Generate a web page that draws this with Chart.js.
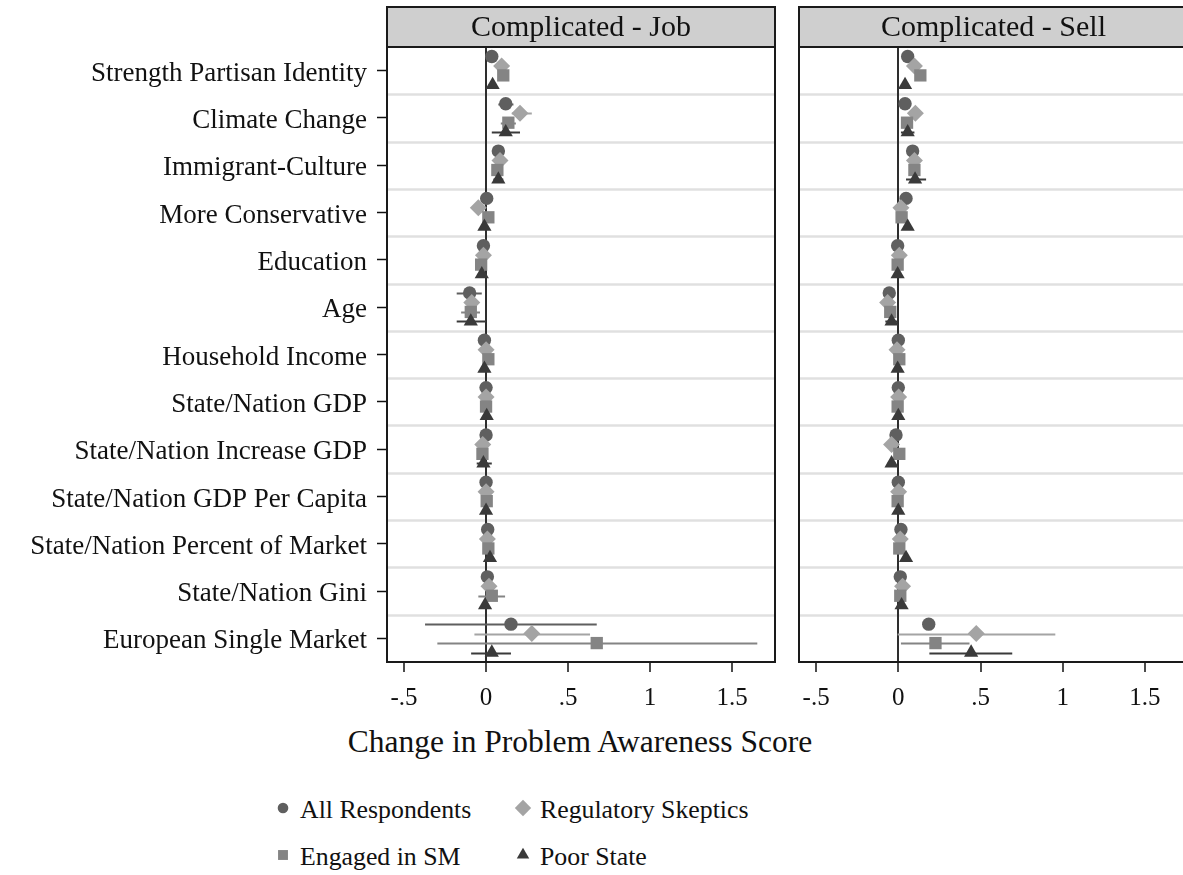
<!DOCTYPE html>
<html>
<head>
<meta charset="utf-8">
<script src="https://cdn.jsdelivr.net/npm/chart.js@4.4.1/dist/chart.umd.min.js"></script>
<style>
  html, body { margin: 0; padding: 0; background: #fff; overflow: hidden; width: 1183px; height: 875px; }
  #wrap { position: relative; width: 1183px; height: 875px; overflow: hidden; }
  canvas { position: absolute; top: 0; }
  #cJob { left: 0; }
  #cSell { left: 790px; }
  .xtitle { position: absolute; left: 280px; width: 600px; top: 724px; text-align: center;
            font-family: "Liberation Serif", serif; font-size: 31.5px; color: #111; white-space: nowrap; }
  .leg { position: absolute; height: 40px; display: flex; align-items: center;
         font-family: "Liberation Serif", serif; font-size: 25.8px; color: #111; white-space: nowrap; }
  .leg canvas { position: static; margin-right: 5px; }
</style>
</head>
<body>
<div id="wrap">
  <canvas id="cJob" width="790" height="720"></canvas>
  <canvas id="cSell" width="420" height="720"></canvas>
  <div class="xtitle">Change in Problem Awareness Score</div>
  <div id="legend"></div>
</div>
<script>
// Covariates, top to bottom
const categories = [
  'Strength Partisan Identity', 'Climate Change', 'Immigrant-Culture', 'More Conservative',
  'Education', 'Age', 'Household Income', 'State/Nation GDP', 'State/Nation Increase GDP',
  'State/Nation GDP Per Capita', 'State/Nation Percent of Market', 'State/Nation Gini',
  'European Single Market'
];
const seriesNames = ['All Respondents', 'Regulatory Skeptics', 'Engaged in SM', 'Poor State'];
const panelTitles = ['Complicated - Job', 'Complicated - Sell'];
const xTickValues = [-0.5, 0, 0.5, 1, 1.5];
const xTickLabels = ['-.5', '0', '.5', '1', '1.5'];

// Complicated - Job: point estimates and confidence bounds
const jobAll       = [0.035, 0.12, 0.075, 0.004, -0.016, -0.10, -0.01, 0.0, 0.0, 0.0, 0.01, 0.008, 0.152];
const jobAllLo     = [0.012, 0.075, 0.052, -0.02, -0.04, -0.179, -0.032, -0.022, -0.022, -0.02, -0.012, -0.014, -0.372];
const jobAllHi     = [0.058, 0.167, 0.098, 0.028, 0.008, -0.026, 0.012, 0.022, 0.022, 0.02, 0.032, 0.03, 0.675];
const jobSkeptics   = [0.095, 0.207, 0.085, -0.047, -0.016, -0.087, 0.0, 0.0, -0.02, 0.0, 0.008, 0.018, 0.279];
const jobSkepticsLo = [0.07, 0.157, 0.06, -0.075, -0.042, -0.118, -0.024, -0.022, -0.046, -0.022, -0.014, -0.008, -0.071];
const jobSkepticsHi = [0.12, 0.279, 0.11, -0.019, 0.01, -0.056, 0.024, 0.022, 0.006, 0.022, 0.03, 0.044, 0.634];
const jobEngaged   = [0.105, 0.136, 0.069, 0.014, -0.03, -0.093, 0.014, 0.0, -0.022, 0.004, 0.014, 0.035, 0.675];
const jobEngagedLo = [0.08, 0.09, 0.045, -0.012, -0.056, -0.152, -0.01, -0.022, -0.048, -0.02, -0.01, -0.047, -0.297];
const jobEngagedHi = [0.13, 0.182, 0.093, 0.04, -0.004, -0.037, 0.038, 0.022, 0.004, 0.028, 0.038, 0.116, 1.654];
const jobPoor      = [0.04, 0.12, 0.075, -0.01, -0.026, -0.093, -0.01, 0.004, -0.016, 0.0, 0.024, -0.006, 0.035];
const jobPoorLo    = [0.015, 0.035, 0.045, -0.036, -0.05, -0.179, -0.034, -0.02, -0.057, -0.022, 0.002, -0.03, -0.091];
const jobPoorHi    = [0.065, 0.207, 0.105, 0.016, -0.002, 0.0, 0.014, 0.028, 0.035, 0.022, 0.046, 0.018, 0.152];

// Complicated - Sell: point estimates and confidence bounds
const sellAll       = [0.057, 0.041, 0.087, 0.047, -0.004, -0.055, 0.0, 0.0, -0.014, 0.0, 0.016, 0.012, 0.185];
const sellAllLo     = [0.035, 0.02, 0.065, 0.025, -0.025, -0.08, -0.02, -0.02, -0.035, -0.02, -0.005, -0.01, null];
const sellAllHi     = [0.08, 0.062, 0.11, 0.07, 0.017, -0.03, 0.02, 0.02, 0.007, 0.02, 0.037, 0.034, null];
const sellSkeptics   = [0.098, 0.104, 0.098, 0.016, 0.006, -0.065, -0.008, 0.002, -0.041, 0.002, 0.012, 0.026, 0.474];
const sellSkepticsLo = [0.075, 0.08, 0.075, -0.005, -0.015, -0.09, -0.03, -0.02, -0.065, -0.02, -0.01, 0.005, -0.004];
const sellSkepticsHi = [0.12, 0.128, 0.12, 0.037, 0.027, -0.04, 0.014, 0.024, -0.017, 0.024, 0.034, 0.047, 0.955];
const sellEngaged   = [0.134, 0.053, 0.098, 0.02, -0.004, -0.049, 0.006, -0.004, 0.006, -0.004, 0.006, 0.012, 0.226];
const sellEngagedLo = [0.11, 0.03, 0.075, -0.002, -0.025, -0.07, -0.015, -0.025, -0.015, -0.025, -0.015, -0.01, 0.016];
const sellEngagedHi = [0.158, 0.076, 0.12, 0.042, 0.017, -0.028, 0.027, 0.017, 0.027, 0.017, 0.027, 0.034, 0.433];
const sellPoor      = [0.041, 0.057, 0.102, 0.057, -0.004, -0.041, -0.004, 0.0, -0.041, 0.0, 0.047, 0.02, 0.443];
const sellPoorLo    = [0.02, 0.016, 0.047, 0.035, -0.025, -0.079, -0.025, -0.02, -0.065, -0.02, 0.025, 0.0, 0.189];
const sellPoorHi    = [0.062, 0.098, 0.169, 0.08, 0.017, -0.004, 0.017, 0.02, -0.017, 0.02, 0.07, 0.04, 0.693];

// Marker look for each series, and its vertical dodge inside a row
const seriesStyle = [
  { pointStyle: 'circle',   radius: 6.7, color: '#5f5f5f' },
  { pointStyle: 'rectRot',  radius: 8.5, color: '#a4a4a4' },
  { pointStyle: 'rect',     radius: 8.7, color: '#848484' },
  { pointStyle: 'triangle', radius: 8.2, color: '#3a3a3a' }
];
const rowDodge = [-0.3, -0.1, 0.1, 0.3];

const FONT = '"Liberation Serif", serif';
const INK = '#111';

function makeDatasets(est, lo, hi) {
  return est.map((values, s) => ({
    label: seriesNames[s],
    data: values.map((v, i) => ({ x: v, y: i + 1 + rowDodge[s] })),
    lo: lo[s], hi: hi[s],
    pointStyle: seriesStyle[s].pointStyle,
    pointRadius: seriesStyle[s].radius,
    backgroundColor: seriesStyle[s].color,
    borderColor: seriesStyle[s].color,
    borderWidth: 0,
    order: 4 - s
  }));
}

// light rules between covariate rows
const rowRules = {
  id: 'rowRules',
  beforeDraw(chart) {
    const { ctx, chartArea: a, scales: { y } } = chart;
    ctx.save();
    ctx.strokeStyle = '#e0e0e0';
    ctx.lineWidth = 2.5;
    for (let k = 1; k < categories.length; k++) {
      const py = Math.round(y.getPixelForValue(k + 0.5)) + 0.5;
      ctx.beginPath(); ctx.moveTo(a.left, py); ctx.lineTo(a.right, py); ctx.stroke();
    }
    ctx.restore();
  }
};

// horizontal confidence-interval whiskers
const ciBars = {
  id: 'ciBars',
  beforeDatasetsDraw(chart) {
    const { ctx, scales: { x } } = chart;
    ctx.save();
    ctx.lineWidth = 2;
    chart.data.datasets.forEach((ds, d) => {
      const meta = chart.getDatasetMeta(d);
      ctx.strokeStyle = ds.borderColor;
      meta.data.forEach((pt, i) => {
        const lo = ds.lo[i], hi = ds.hi[i];
        if (lo == null || hi == null) return;
        const py = Math.round(pt.y) + 0.5;
        ctx.beginPath();
        ctx.moveTo(x.getPixelForValue(lo), py);
        ctx.lineTo(x.getPixelForValue(hi), py);
        ctx.stroke();
      });
    });
    ctx.restore();
  }
};

// panel frame and grey title strip
const panelFrame = {
  id: 'panelFrame',
  afterDraw(chart, args, opts) {
    const { ctx, chartArea: a } = chart;
    ctx.save();
    ctx.lineWidth = 2;
    ctx.strokeStyle = '#1a1a1a';
    ctx.strokeRect(a.left, a.top, a.right - a.left, a.bottom - a.top);
    const hTop = 7;
    ctx.fillStyle = '#cfcfcf';
    ctx.fillRect(a.left, hTop, a.right - a.left, a.top - hTop);
    ctx.strokeRect(a.left, hTop, a.right - a.left, a.top - hTop);
    ctx.fillStyle = INK;
    ctx.font = '30px ' + FONT;
    ctx.textAlign = 'center';
    ctx.textBaseline = 'middle';
    ctx.fillText(opts.title, (a.left + a.right) / 2, (hTop + a.top) / 2 + 1);
    ctx.restore();
  }
};

function makeChart(canvasId, title, datasets, withLabels, yWidth, padRight) {
  return new Chart(document.getElementById(canvasId), {
    type: 'scatter',
    data: { datasets },
    options: {
      responsive: false,
      animation: false,
      events: [],
      layout: { padding: { top: 47, right: padRight, bottom: 0, left: 0 } },
      plugins: { legend: { display: false }, tooltip: { enabled: false }, panelFrame: { title } },
      scales: {
        x: {
          type: 'linear', min: -0.604, max: 1.762,
          afterBuildTicks(s) { s.ticks = xTickValues.map(v => ({ value: v })); },
          afterFit(s) { s.height = 58; },
          ticks: {
            font: { family: FONT, size: 25 }, color: INK, padding: 11, maxRotation: 0,
            callback: (v, i) => xTickLabels[i]
          },
          grid: {
            color: c => (c.tick && c.tick.value === 0) ? '#2e2e2e' : 'rgba(0,0,0,0)',
            lineWidth: 2, drawTicks: true, tickLength: 10, tickColor: INK, tickWidth: 1.5
          },
          border: { color: '#1a1a1a', width: 2 }
        },
        y: {
          type: 'linear', min: 0.5, max: 13.5, reverse: true,
          afterBuildTicks(s) { s.ticks = categories.map((c, i) => ({ value: i + 1 })); },
          afterFit(s) { s.width = yWidth; },
          ticks: {
            display: withLabels,
            font: { family: FONT, size: 27 }, color: INK, padding: 10, labelOffset: 3,
            callback: (v, i) => categories[i]
          },
          grid: {
            drawOnChartArea: false, drawTicks: withLabels, tickLength: 10,
            tickColor: INK, tickWidth: 1.5
          },
          border: { color: '#1a1a1a', width: 2 }
        }
      }
    },
    plugins: [rowRules, ciBars, panelFrame]
  });
}

// keep the plot area's right edge where the panel should end
function pinRight(chart, right) {
  const diff = chart.chartArea.right - right;
  if (Math.abs(diff) > 0.25) {
    chart.options.layout.padding.right += diff;
    chart.update();
  }
}

const jobChart = makeChart('cJob', panelTitles[0],
  makeDatasets([jobAll, jobSkeptics, jobEngaged, jobPoor],
               [jobAllLo, jobSkepticsLo, jobEngagedLo, jobPoorLo],
               [jobAllHi, jobSkepticsHi, jobEngagedHi, jobPoorHi]),
  true, 387, 15);
pinRight(jobChart, 775);

const sellChart = makeChart('cSell', panelTitles[1],
  makeDatasets([sellAll, sellSkeptics, sellEngaged, sellPoor],
               [sellAllLo, sellSkepticsLo, sellEngagedLo, sellPoorLo],
               [sellAllHi, sellSkepticsHi, sellEngagedHi, sellPoorHi]),
  false, 9, 22);
pinRight(sellChart, 398);

// legend: two columns, filled row by row
const legendSpots = [[271, 790], [511, 790], [271, 837], [511, 837]];
const legendRadius = [5.3, 8.2, 7, 7.2];
const legendBox = document.getElementById('legend');
seriesNames.forEach((name, s) => {
  const item = document.createElement('div');
  item.className = 'leg';
  item.style.left = legendSpots[s][0] + 'px';
  item.style.top = legendSpots[s][1] + 'px';
  const mk = document.createElement('canvas');
  mk.width = 24; mk.height = 24;
  const g = mk.getContext('2d');
  g.fillStyle = seriesStyle[s].color;
  g.strokeStyle = seriesStyle[s].color;
  Chart.helpers.drawPoint(g, { pointStyle: seriesStyle[s].pointStyle, radius: legendRadius[s], borderWidth: 0, rotation: 0 }, 12, 10);
  const txt = document.createElement('span');
  txt.textContent = name;
  item.appendChild(mk);
  item.appendChild(txt);
  legendBox.appendChild(item);
});
</script>
</body>
</html>
